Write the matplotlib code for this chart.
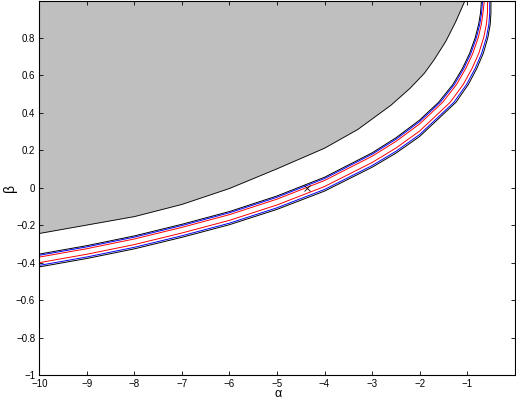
import matplotlib
matplotlib.use("Agg")
import matplotlib.pyplot as plt

# gray region boundary (upper-left shaded area)
gray_x = [-10, -9, -8, -7, -6, -5, -4, -3.3, -2.6, -2.2, -1.9, -1.7, -1.45, -1.25, -1.05]
gray_y = [-0.245, -0.20, -0.155, -0.09, -0.005, 0.10, 0.21, 0.31, 0.44, 0.53, 0.61, 0.68, 0.78, 0.88, 0.995]

# curve x positions for the flat part, then the steep part
xs_flat = [-10, -9, -8, -7, -6, -5, -4, -3, -2.5, -2]
ys_steep = [0.455, 0.55, 0.635, 0.715, 0.80, 0.87, 0.93, 0.995]

black_u_y = [-0.355, -0.31, -0.258, -0.196, -0.128, -0.045, 0.055, 0.185, 0.265, 0.36]
black_u_x = [-1.6, -1.3, -1.1, -0.95, -0.83, -0.76, -0.72, -0.70]

blue_u_y = [-0.3615, -0.3165, -0.2645, -0.2026, -0.1346, -0.0518, 0.048, 0.1777, 0.2573, 0.3517]
blue_u_x = [-1.566, -1.269, -1.071, -0.923, -0.805, -0.736, -0.698, -0.675]

red_u_y = [-0.371, -0.3262, -0.2743, -0.2124, -0.1446, -0.0619, 0.0375, 0.1668, 0.2457, 0.3393]
red_u_x = [-1.514, -1.223, -1.029, -0.882, -0.767, -0.702, -0.668, -0.64]

red_l_y = [-0.4008, -0.3558, -0.3042, -0.2425, -0.175, -0.0929, 0.0055, 0.1335, 0.2103, 0.3013]
red_l_x = [-1.356, -1.082, -0.898, -0.757, -0.652, -0.596, -0.573, -0.57]

blue_l_y = [-0.4153, -0.3704, -0.3188, -0.2573, -0.19, -0.1081, -0.0102, 0.1172, 0.1929, 0.2827]
blue_l_x = [-1.278, -1.013, -0.833, -0.696, -0.596, -0.544, -0.526, -0.525]

black_l_y = [-0.4234, -0.3785, -0.327, -0.2655, -0.1982, -0.1165, -0.019, 0.1081, 0.1832, 0.2723]
black_l_x = [-1.235, -0.975, -0.798, -0.662, -0.565, -0.515, -0.50, -0.50]

marker_x = [-4.37]
marker_y = [0.0]

plt.rcParams['font.family'] = ['Liberation Sans', 'DejaVu Sans']
plt.rcParams['mathtext.fontset'] = 'custom'
plt.rcParams['mathtext.rm'] = 'Liberation Sans'

fig = plt.figure(figsize=(5.16, 4.0), dpi=100)
ax = fig.add_axes([0.0762, 0.0625, 0.9213, 0.935])

ax.fill_between(gray_x, gray_y, 1.0, color='#bfbfbf', lw=0)
ax.plot(gray_x, gray_y, color='black', lw=0.6)

curves = [
    (black_u_y, black_u_x, 'black'),
    (blue_u_y, blue_u_x, 'blue'),
    (red_u_y, red_u_x, 'red'),
    (red_l_y, red_l_x, 'red'),
    (blue_l_y, blue_l_x, 'blue'),
    (black_l_y, black_l_x, 'black'),
]
for yf, xs, c in curves:
    ax.plot(xs_flat + xs, yf + ys_steep, color=c, lw=0.7)

ax.plot(marker_x, marker_y, 'x', color='black', ms=4, mew=0.6)

ax.set_xlim(-10, 0)
ax.set_ylim(-1, 0.995)
ax.set_xticks(range(-10, 0))
ax.set_yticks([-1, -0.8, -0.6, -0.4, -0.2, 0, 0.2, 0.4, 0.6, 0.8])
ax.set_yticklabels(['\u22121', '\u22120.8', '\u22120.6', '\u22120.4', '\u22120.2',
                    '0', '0.2', '0.4', '0.6', '0.8'])
ax.tick_params(direction='in', length=3, width=0.6, labelsize=7,
               top=True, right=True, pad=3)
for s in ax.spines.values():
    s.set_linewidth(0.8)

# mathtext keeps the label box tight to the glyph
ax.set_xlabel('$\\mathrm{\u03b1}$', fontsize=9, va='bottom')
ax.set_ylabel('\u03b2', fontsize=10)
ax.xaxis.set_label_coords(0.503, -0.066)
ax.yaxis.set_label_coords(-0.048, 0.5)

fig.savefig('out.png', dpi=100)
